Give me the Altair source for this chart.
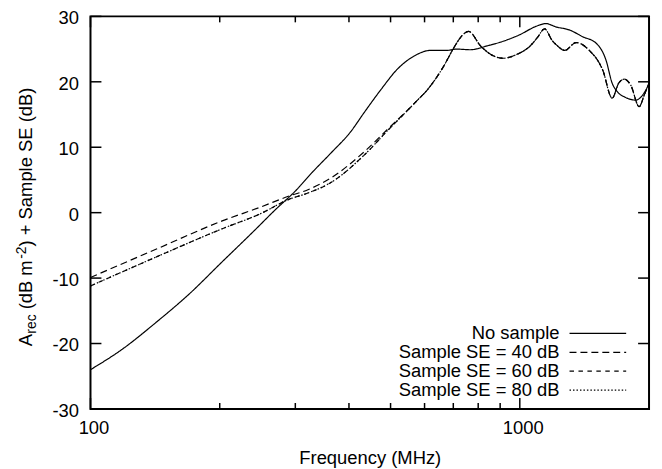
import altair as alt
import pandas as pd

# ---------------- data ----------------
series_names = ["No sample", "Sample SE = 40 dB", "Sample SE = 60 dB", "Sample SE = 80 dB"]

freq_nosample = [100, 119, 142, 170, 202, 242, 270, 300, 330, 363, 404, 434, 476, 518, 566,
                 620, 676, 712, 768, 840, 915, 1000, 1093, 1150, 1213, 1308, 1400, 1506, 1588,
                 1641, 1687, 1765, 1863, 1934, 2000]
val_nosample = [-24.0, -20.8, -16.8, -12.4, -7.6, -2.6, 0.5, 3.3, 6.3, 9.1, 12.4, 15.3, 18.9, 21.9, 23.9,
                24.8, 24.8, 25.0, 24.9, 25.5, 26.2, 27.2, 28.5, 28.9, 28.4, 27.9, 26.9, 25.9, 23.3,
                19.8, 18.5, 17.6, 17.2, 18.0, 19.7]

freq_se = [100, 142, 202, 250, 289, 321, 363, 434, 493, 566, 620, 665, 702, 728, 760, 810, 855,
           915, 985, 1058, 1100, 1142, 1190, 1219, 1273, 1352, 1452, 1560, 1641, 1700, 1750,
           1813, 1897, 1950, 2000]
val_se40 = [-9.9, -5.6, -1.3, 0.9, 2.5, 3.5, 5.3, 9.3, 12.8, 16.6, 19.4, 22.4, 25.2, 26.8, 27.7,
            25.5, 24.2, 23.6, 24.2, 25.5, 26.8, 28.1, 26.3, 25.6, 24.8, 26.0, 24.8, 21.8, 17.5,
            19.8, 20.4, 19.5, 16.2, 18.0, 19.8]
val_se60 = [-11.2, -6.8, -2.5, -0.1, 2.0, 3.0, 4.6, 8.8, 12.6, 16.6, 19.4, 22.4, 25.2, 26.8, 27.7,
            25.5, 24.2, 23.6, 24.2, 25.5, 26.8, 28.1, 26.3, 25.6, 24.8, 26.0, 24.8, 21.8, 17.5,
            19.8, 20.4, 19.5, 16.2, 18.0, 19.8]
val_se80 = [-11.2, -6.8, -2.5, -0.1, 2.0, 3.0, 4.6, 8.8, 12.6, 16.6, 19.4, 22.4, 25.2, 26.8, 27.7,
            25.5, 24.2, 23.6, 24.2, 25.5, 26.8, 28.1, 26.3, 25.6, 24.8, 26.0, 24.8, 21.8, 17.5,
            19.8, 20.4, 19.5, 16.2, 18.0, 19.8]

y_ticks = [-30, -20, -10, 0, 10, 20, 30]
x_major = [100, 1000]
x_minor = [200, 300, 400, 500, 600, 700, 800, 900]

# ---------------- build table ----------------
rows = []
for name, fr, vals in [(series_names[0], freq_nosample, val_nosample),
                       (series_names[1], freq_se, val_se40),
                       (series_names[2], freq_se, val_se60),
                       (series_names[3], freq_se, val_se80)]:
    for i, (f, v) in enumerate(zip(fr, vals)):
        rows.append({"series": name, "freq": f, "val": v, "idx": i})
df = pd.DataFrame(rows)

W, H = 562, 395
FONT = "Liberation Sans"
FS = 18.5
dashes = [[1, 0], [7, 4], [4.5, 4.5], [1.5, 2]]

xscale = alt.Scale(type="log", domain=[100, 2000], nice=False)
yscale = alt.Scale(domain=[-30, 30], nice=False, zero=False)

X = alt.X("freq:Q", scale=xscale,
          axis=alt.Axis(values=x_major, labelExpr="datum.value + ''", ticks=False, domain=False,
                        grid=False, labelFlush=False,
                        labelFontSize=FS, labelPadding=10, labelColor="black", labelFont=FONT,
                        labelOffset=3,
                        title="Frequency (MHz)", titleFontSize=FS, titleFont=FONT,
                        titleFontWeight="normal", titleColor="black", titlePadding=11))
Y = alt.Y("val:Q", scale=yscale,
          axis=alt.Axis(values=y_ticks, labelExpr="datum.value + ''", ticks=False, domain=False,
                        grid=False, labelFlush=False,
                        labelFontSize=FS, labelPadding=12, labelColor="black", labelFont=FONT,
                        labelOffset=1.5, title=""))

lines = alt.Chart(df).mark_line(interpolate="monotone", color="black", strokeWidth=1.2, clip=True).encode(
    x=X, y=Y,
    detail="series:N",
    order="idx:Q",
    strokeDash=alt.StrokeDash("series:N", scale=alt.Scale(domain=series_names, range=dashes), legend=None),
)

# inward ticks (gnuplot style)
ydf = pd.DataFrame({"val": y_ticks})
xmaj = pd.DataFrame({"freq": x_major})
xmin = pd.DataFrame({"freq": x_minor})
tick_style = dict(color="black", strokeWidth=1.5)
yl = alt.Chart(ydf).mark_rule(**tick_style).encode(y=Y, x=alt.value(0), x2=alt.value(11))
yr = alt.Chart(ydf).mark_rule(**tick_style).encode(y=Y, x=alt.value(W - 11), x2=alt.value(W))
xb_maj = alt.Chart(xmaj).mark_rule(**tick_style).encode(x=X, y=alt.value(H - 11), y2=alt.value(H))
xt_maj = alt.Chart(xmaj).mark_rule(**tick_style).encode(x=X, y=alt.value(0), y2=alt.value(11))
xb_min = alt.Chart(xmin).mark_rule(**tick_style).encode(x=X, y=alt.value(H - 6), y2=alt.value(H))
xt_min = alt.Chart(xmin).mark_rule(**tick_style).encode(x=X, y=alt.value(0), y2=alt.value(6))

# legend (gnuplot style, key text right-aligned, sample to the right)
legend_layers = []
for i, name in enumerate(series_names):
    ldf = pd.DataFrame({"label": [name]})
    yy = 319 + 19 * i
    legend_layers.append(alt.Chart(ldf).mark_text(align="right", baseline="middle", fontSize=FS,
                                                  font=FONT, color="black").encode(
        text="label:N", x=alt.value(472), y=alt.value(yy)))
    legend_layers.append(alt.Chart(ldf).mark_rule(color="black", strokeWidth=1.2,
                                                  strokeDash=dashes[i]).encode(
        x=alt.value(482), x2=alt.value(539), y=alt.value(yy)))

# y-axis title with subscript / superscript
title_parts = [("A", FS, -59, 332), ("rec", 14, -55, 319.3), ("(dB m", FS, -59, 294.8),
               ("-2", 14, -65, 243.9), (") + Sample SE (dB)", FS, -59, 231.5)]
title_layers = []
for txt, size, xx, yy in title_parts:
    tdf = pd.DataFrame({"t": [txt]})
    title_layers.append(alt.Chart(tdf).mark_text(align="left", baseline="alphabetic", angle=270,
                                                 fontSize=size, font=FONT, color="black").encode(
        text="t:N", x=alt.value(xx), y=alt.value(yy)))

chart = alt.layer(lines, yl, yr, xb_maj, xt_maj, xb_min, xt_min, *legend_layers, *title_layers).properties(
    width=W, height=H,
    autosize=alt.AutoSizeParams(type="none"),
    padding={"left": 83, "top": 7, "right": 5, "bottom": 59},
).configure_view(stroke="black", strokeWidth=2)

chart.save("out.html", embed_options={"renderer": "svg", "actions": False})
